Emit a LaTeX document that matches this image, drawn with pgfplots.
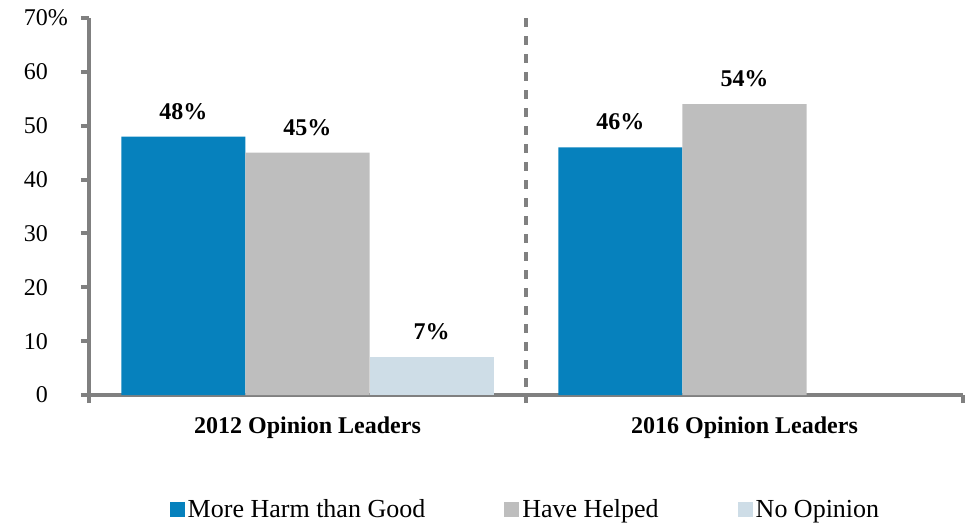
\documentclass[border=0pt]{standalone}
\usepackage{pgfplots}
\pgfplotsset{compat=1.18}
\usepackage{fontspec}
\setmainfont{Liberation Serif}
\definecolor{harm}{RGB}{6,129,189}
\definecolor{helped}{RGB}{190,190,190}
\definecolor{noop}{RGB}{206,221,231}
\definecolor{axgray}{RGB}{128,128,128}

\begin{document}
\begin{tikzpicture}[font=\fontsize{12}{14}\selectfont]
\useasboundingbox (-44.5pt,-65.5pt) rectangle (441pt,197.5pt);
\begin{axis}[
  at={(0,0)}, anchor=south west,
  scale only axis, width=437pt, height=188.5pt,
  ybar=0pt, bar width=0.284,
  xmin=-0.5, xmax=1.5, ymin=0, ymax=70,
  clip=false,
  axis x line=bottom, axis y line=left,
  axis line style={axgray, line width=2.2pt, -},
  tick align=outside,
  tick style={axgray, line width=2pt},
  major tick length=4pt,
  ytick={0,10,...,70},
  yticklabels={0,10,20,30,40,50,60,70\rlap{\%}},
  yticklabel style={anchor=east, xshift=-13pt},
  xtick={-0.5,0.5,1.5}, xticklabels={},
  extra x ticks={0,1},
  extra x tick labels={2012 Opinion Leaders, 2016 Opinion Leaders},
  extra x tick style={major tick length=0pt, tick style={draw=none},
    xticklabel style={font=\fontsize{12}{14}\selectfont\bfseries, yshift=-7.5pt}},
  /pgf/number format/assume math mode=true,
  nodes near coords={\pgfmathprintnumber{\pgfplotspointmeta}\%},
  nodes near coords style={font=\fontsize{12}{14}\selectfont\bfseries, text=black, yshift=5pt},
  legend style={at={(0.5,-0.305)}, anchor=center, draw=none,
    font=\fontsize{13}{15}\selectfont, nodes={inner sep=1.5pt},
    /tikz/every even column/.append style={column sep=38pt}},
  legend columns=3,
  legend image code/.code={\fill[#1] (0pt,-3.75pt) rectangle (7.5pt,3.75pt);},
]
\addplot[fill=harm, draw=none] coordinates {(0,48) (1,46)};
\addplot[fill=helped, draw=none] coordinates {(0,45) (1,54)};
\addplot[fill=noop, draw=none] coordinates {(0,7)};
\legend{More Harm than Good\hspace{14.5pt}, Have Helped, No Opinion}
\draw[axgray, line width=2pt, dash pattern=on 4.5pt off 4.5pt]
  (axis cs:0.5,70) -- (axis cs:0.5,0);
\end{axis}
\end{tikzpicture}
\end{document}
